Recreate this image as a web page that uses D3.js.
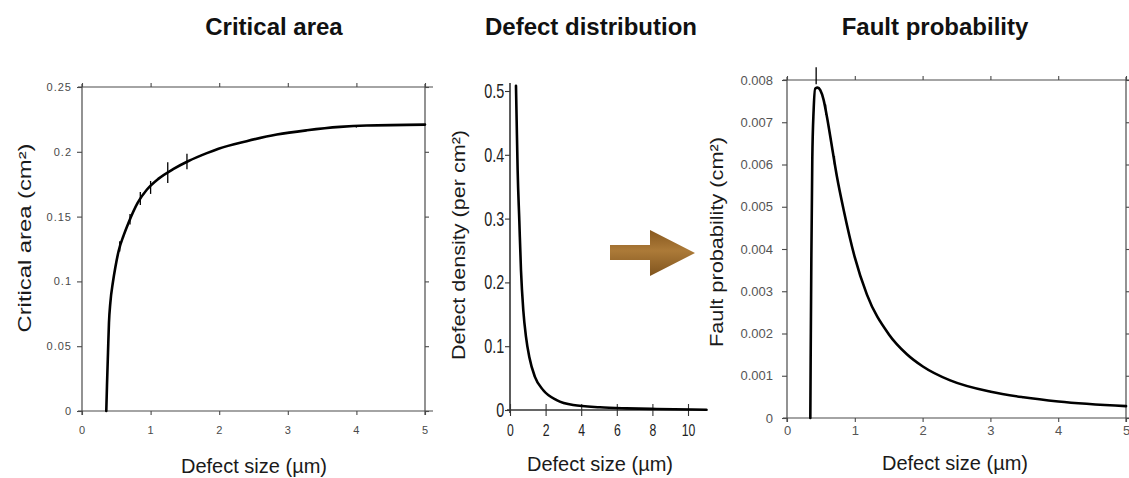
<!DOCTYPE html>
<html><head><meta charset="utf-8">
<script src="https://cdn.jsdelivr.net/npm/d3@7"></script>
<style>
html,body{margin:0;padding:0;background:#fff;}
svg{display:block;font-family:"Liberation Sans",Arial,sans-serif;}
</style></head>
<body><svg id="c" width="1129" height="478"></svg>
<script>
// ---------- data ----------
const titles = ["Critical area", "Defect distribution", "Fault probability"];
const xTitle = "Defect size (\u00b5m)";
const yTitles = ["Critical area (cm\u00b2)", "Defect density (per cm\u00b2)", "Fault probability (cm\u00b2)"];

// Panel 1: critical area vs defect size
const caX = [0.354,0.364,0.379,0.393,0.413,0.451,0.485,0.534,0.607,0.68,0.811,0.947,1.117,1.335,1.553,1.82,1.99,2.40,2.84,3.28,3.76,4.15,5.0];
const caY = [0,0.0193,0.045,0.068,0.0835,0.0995,0.1105,0.1235,0.1355,0.1455,0.1606,0.1709,0.1793,0.1868,0.1929,0.1990,0.2024,0.2082,0.2133,0.2166,0.2192,0.2203,0.221];
const caErrX = [0.55,0.70,0.85,1.0,1.25,1.53,4.0];
const caErrY = [0.127,0.148,0.164,0.1725,0.184,0.1925,0.2197];
const caErrE = [0.004,0.004,0.005,0.005,0.008,0.006,0.001];
const caXTicks = [0,1,2,3,4,5];
const caYTicks = [0,0.05,0.1,0.15,0.2,0.25];
const caYLabels = ["0","0.05","0.1","0.15","0.2","0.25"];

// Panel 2: defect density vs defect size
const ddX = [0.336,0.374,0.43,0.523,0.617,0.748,0.897,1.084,1.40,1.87,2.62,3.55,5.05,6.54,8.22,11.03];
const ddY = [0.508,0.453,0.375,0.297,0.219,0.156,0.115,0.083,0.052,0.031,0.0156,0.0078,0.0042,0.0026,0.0016,0.0005];
const ddXTicks = [0,2,4,6,8,10];
const ddYTicks = [0,0.1,0.2,0.3,0.4,0.5];
const ddYLabels = ["0","0.1","0.2","0.3","0.4","0.5"];

// Panel 3: fault probability vs defect size
const fpX = [0.344,0.349,0.359,0.373,0.393,0.417,0.452,0.491,0.54,0.589,0.663,0.737,0.835,0.997,1.179,1.498,1.768,2.004,2.407,3.006,3.487,4.003,5.0];
const fpY = [0,0.00138,0.00374,0.00611,0.00729,0.0078,0.00782,0.00776,0.00753,0.00713,0.00642,0.00571,0.00493,0.00382,0.00292,0.00199,0.00151,0.00122,0.00089,0.00062,0.00049,0.00039,0.00028];
const fpErrX = [0.43,0.57,0.70];
const fpErrY = [0.0081,0.0073,0.0061];
const fpErrE = [0.0002,0.00012,0.0001];
const fpXTicks = [0,1,2,3,4,5];
const fpYTicks = [0,0.001,0.002,0.003,0.004,0.005,0.006,0.007,0.008];
const fpYLabels = ["0","0.001","0.002","0.003","0.004","0.005","0.006","0.007","0.008"];

// ---------- drawing ----------
const svg = d3.select("#c");
svg.append("rect").attr("width",1129).attr("height",478).attr("fill","#fff");

const defs = svg.append("defs");
const grad = defs.append("linearGradient").attr("id","arrowGrad").attr("x1",0).attr("y1",0).attr("x2",0).attr("y2",1);
grad.append("stop").attr("offset","0%").attr("stop-color","#87581f");
grad.append("stop").attr("offset","45%").attr("stop-color","#ac7a38");
grad.append("stop").attr("offset","100%").attr("stop-color","#80541e");

function zip(xs, ys){ return xs.map((x,i)=>[x,ys[i]]); }

function curve(g, x, y, xs, ys){
  const line = d3.line().x(d=>x(d[0])).y(d=>y(d[1])).curve(d3.curveMonotoneX);
  g.append("path").datum(zip(xs,ys)).attr("d",line)
    .attr("fill","none").attr("stroke","#000").attr("stroke-width",2.6)
    .attr("stroke-linejoin","round").attr("stroke-linecap","round");
}
function errs(g, x, y, xs, ys, es){
  g.selectAll(null).data(xs.map((v,i)=>({x:v,y:ys[i],e:es[i]}))).enter().append("line")
    .attr("x1",d=>x(d.x)).attr("x2",d=>x(d.x))
    .attr("y1",d=>y(d.y-d.e)).attr("y2",d=>y(d.y+d.e))
    .attr("stroke","#000").attr("stroke-width",1.3);
}
function styleAxis(a, color){
  a.select(".domain").remove();
  a.selectAll(".tick line").attr("stroke",color).attr("stroke-width",1.1);
}

function boxPanel(cfg){
  const {x, y, xTicks, yTicks, yLabels, fs, lblColor, xOff, yOff, ls} = cfg;
  const g = svg.append("g");
  const [x0,x1] = x.range(), [yb,yt] = y.range();
  const col = "#4a4a4a";
  g.append("line").attr("x1",x0-4).attr("x2",x1+8).attr("y1",yt).attr("y2",yt).attr("stroke",col).attr("stroke-width",1.2);
  g.append("line").attr("x1",x0-4).attr("x2",x1+8).attr("y1",yb).attr("y2",yb).attr("stroke",col).attr("stroke-width",1.2);
  g.append("line").attr("x1",x0).attr("x2",x0).attr("y1",yt-3).attr("y2",yb+4).attr("stroke",col).attr("stroke-width",1.2);
  g.append("line").attr("x1",x1).attr("x2",x1).attr("y1",yt-3).attr("y2",yb+4).attr("stroke",col).attr("stroke-width",1.2);

  const ax = g.append("g").attr("transform",`translate(0,${yb})`)
    .call(d3.axisBottom(x).tickValues(xTicks).tickFormat(d3.format("d")).tickSize(4).tickPadding(xOff));
  const ay = g.append("g").attr("transform",`translate(${x0},0)`)
    .call(d3.axisLeft(y).tickValues(yTicks).tickFormat((d,i)=>yLabels[i]).tickSize(5).tickPadding(yOff));
  const at = g.append("g").attr("transform",`translate(0,${yt})`)
    .call(d3.axisTop(x).tickValues(xTicks).tickFormat("").tickSize(4));
  const ar = g.append("g").attr("transform",`translate(${x1},0)`)
    .call(d3.axisRight(y).tickValues(yTicks).tickFormat("").tickSize(4));
  [ax,ay,at,ar].forEach(a=>styleAxis(a,col));
  [ax,ay].forEach(a=>a.selectAll("text").attr("font-size",fs).attr("fill",lblColor)
      .attr("font-family","'Liberation Sans',Arial,sans-serif").attr("letter-spacing",ls));
  return g;
}

// ---- Panel 1 ----
const x1s = d3.scaleLinear().domain([0,5]).range([82,425]);
const y1s = d3.scaleLinear().domain([0,0.25]).range([411,87]);
const g1 = boxPanel({x:x1s,y:y1s,xTicks:caXTicks,yTicks:caYTicks,yLabels:caYLabels,fs:11,lblColor:"#4a4a4a",xOff:11,yOff:5,ls:1});
curve(g1,x1s,y1s,caX,caY);
errs(g1,x1s,y1s,caErrX,caErrY,caErrE);

// ---- Panel 3 ----
const x3s = d3.scaleLinear().domain([0,5]).range([787,1126]);
const y3s = d3.scaleLinear().domain([0,0.008]).range([418,80]);
const g3 = boxPanel({x:x3s,y:y3s,xTicks:fpXTicks,yTicks:fpYTicks,yLabels:fpYLabels,fs:13,lblColor:"#555",xOff:4,yOff:9,ls:0});
curve(g3,x3s,y3s,fpX,fpY);
errs(g3,x3s,y3s,fpErrX,fpErrY,fpErrE);

// ---- Panel 2 ----
const x2s = d3.scaleLinear().domain([0,10]).range([510,688]);
const y2s = d3.scaleLinear().domain([0,0.5]).range([410,91]);
const g2 = svg.append("g");
const c2 = "#333";
g2.append("line").attr("x1",x2s(0)-3).attr("x2",x2s(11.1)).attr("y1",y2s(0)).attr("y2",y2s(0)).attr("stroke",c2).attr("stroke-width",1.6);
g2.append("line").attr("x1",x2s(0)).attr("x2",x2s(0)).attr("y1",y2s(0.5)-8).attr("y2",y2s(0)+3).attr("stroke",c2).attr("stroke-width",1.6);
const ax2 = g2.append("g").attr("transform",`translate(0,${y2s(0)})`)
  .call(d3.axisBottom(x2s).tickValues(ddXTicks).tickFormat(d3.format("d")).tickSize(6).tickPadding(8));
ax2.selectAll(".tick line").attr("y1",-6);
const ay2 = g2.append("g").attr("transform",`translate(${x2s(0)},0)`)
  .call(d3.axisLeft(y2s).tickValues(ddYTicks).tickFormat((d,i)=>ddYLabels[i]).tickSize(5).tickPadding(3));
[ax2,ay2].forEach(a=>{ styleAxis(a,c2);
  a.selectAll("text").attr("font-size",20).attr("fill","#222").attr("transform","scale(0.72,1)"); });
ax2.selectAll("text").attr("font-size",17);
curve(g2,x2s,y2s,ddX,ddY);

// ---- Arrow ----
svg.append("path")
  .attr("d","M610,245 L650,245 L650,230 L695,253 L650,276 L650,260 L610,260 Z")
  .attr("fill","url(#arrowGrad)");

// ---- Titles ----
const titleX = [274, 591, 935];
svg.selectAll(".ttl").data(titles).enter().append("text")
  .attr("x",(d,i)=>titleX[i]).attr("y",35).attr("text-anchor","middle")
  .attr("font-size",24).attr("font-weight","bold").attr("fill","#111").text(d=>d);

// ---- X axis titles ----
const xtX = [254, 600, 955], xtY = [473, 471, 470];
svg.selectAll(".xt").data(xtX).enter().append("text")
  .attr("x",d=>d).attr("y",(d,i)=>xtY[i]).attr("text-anchor","middle")
  .attr("font-size",20).attr("fill","#1a1a1a").text(xTitle);

// ---- Y axis titles (rotated) ----
const ytX = [31, 465, 723], ytY = [238, 245, 242], ytLen = [189, 230, 210], ytFs = [18, 19, 19];
yTitles.forEach((t,i)=>{
  svg.append("text").attr("transform",`translate(${ytX[i]},${ytY[i]}) rotate(-90)`)
    .attr("text-anchor","middle").attr("font-size",ytFs[i]).attr("fill","#1a1a1a")
    .attr("textLength",ytLen[i]).attr("lengthAdjust","spacingAndGlyphs").text(t);
});
</script></body></html>
